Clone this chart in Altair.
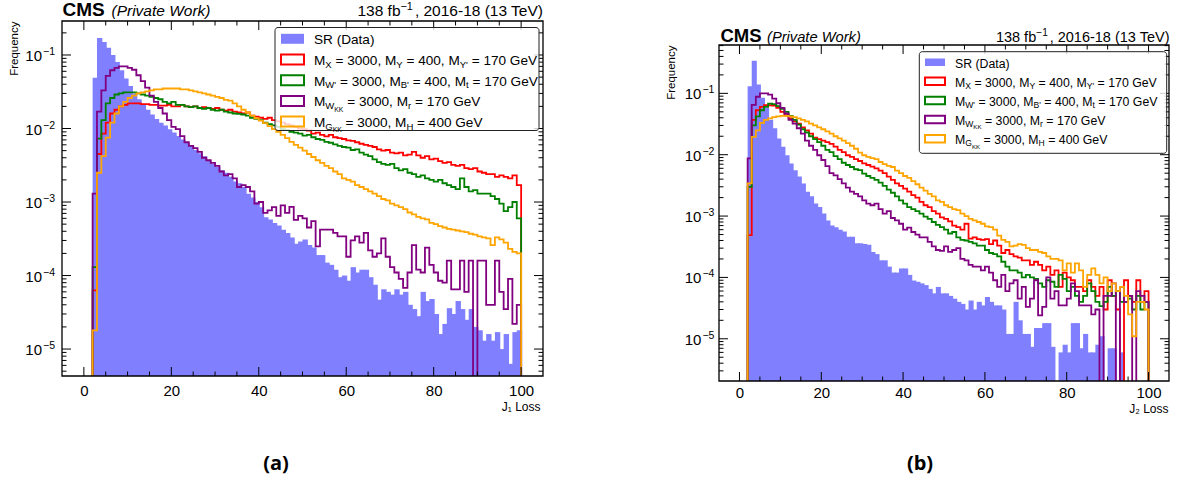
import altair as alt
import pandas as pd
import math

FIRST_BIN = 2  # unit-width bins [2,3), [3,4), ..., [99,100)

# ---------------- panel (a): J1 loss ----------------
j1_sr = [
    0.049, 0.17, 0.15, 0.125, 0.10, 0.08, 0.062, 0.048, 0.038, 0.030,
    0.025, 0.021, 0.018, 0.0155, 0.0135, 0.012, 0.011, 0.0098, 0.0088, 0.0079,
    0.0071, 0.0064, 0.0058, 0.0051, 0.0046, 0.0042, 0.0037, 0.0033, 0.0030, 0.0027,
    0.0025, 0.0022, 0.0019, 0.0018, 0.0016, 0.0013, 0.00115, 0.0010, 0.00085, 0.00062,
    0.00058, 0.00052, 0.00048, 0.00042, 0.00038, 0.00033, 0.00027, 0.00029, 0.00031, 0.00026,
    0.00024, 0.00019, 0.00019, 0.00015, 0.00014, 0.00012, 0.000095, 0.00010, 0.000085, 0.00013,
    0.00011, 0.00012, 0.00012, 0.000095, 0.000075, 0.000047, 0.000065, 0.00006, 0.000055, 0.000065,
    0.000055, 0.00006, 0.00004, 0.000035, 0.000028, 0.00006, 0.000045, 0.000048, 0.00003, 0.000016,
    0.000022, 0.000036, 0.00003, 0.000045, 0.000035, 0.000025, 0.000035, 0.00002, 0.000018, 0.000013,
    0.000016, 0.000013, 0.000017, 0.00001, 0.000016, 0.0000063, 0.000017, 0.000018,
]
j1_xyy = [
    6.3e-5, 0.0045, 0.0085, 0.012, 0.016, 0.018, 0.020, 0.021, 0.022, 0.022,
    0.022, 0.0215, 0.0215, 0.021, 0.021, 0.0205, 0.0205, 0.021, 0.020, 0.020,
    0.021, 0.020, 0.0195, 0.020, 0.019, 0.0195, 0.019, 0.0185, 0.019, 0.018,
    0.0175, 0.018, 0.017, 0.0165, 0.016, 0.0165, 0.015, 0.0145, 0.014, 0.0135,
    0.014, 0.013, 0.0125, 0.012, 0.0115, 0.011, 0.0105, 0.0100, 0.0098, 0.0094,
    0.0085, 0.0088, 0.0082, 0.0078, 0.0082, 0.0076, 0.0074, 0.0072, 0.0069, 0.0068,
    0.0065, 0.0062, 0.0060, 0.0058, 0.0056, 0.0052, 0.0050, 0.0051, 0.0047, 0.0046,
    0.0047, 0.0043, 0.0044, 0.0048, 0.0043, 0.0040, 0.0042, 0.0038, 0.0039, 0.0036,
    0.0034, 0.0035, 0.0032, 0.0031, 0.0032, 0.0029, 0.0028, 0.0029, 0.0026, 0.0025,
    0.0024, 0.0024, 0.0022, 0.0023, 0.0022, 0.0021, 0.0023, 0.0017,
]
j1_wbt = [
    1.3e-4, 0.0073, 0.013, 0.022, 0.026, 0.029, 0.030, 0.031, 0.031, 0.031,
    0.030, 0.029, 0.028, 0.027, 0.026, 0.025, 0.023, 0.022, 0.023, 0.021,
    0.021, 0.020, 0.0195, 0.020, 0.019, 0.0185, 0.019, 0.018, 0.0175, 0.018,
    0.017, 0.0165, 0.016, 0.0158, 0.0155, 0.015, 0.014, 0.0135, 0.013, 0.012,
    0.0115, 0.011, 0.0105, 0.0098, 0.0095, 0.0090, 0.0088, 0.0085, 0.0080, 0.0082,
    0.0076, 0.0072, 0.0070, 0.0066, 0.0064, 0.0061, 0.0058, 0.0056, 0.0055, 0.0051,
    0.0052, 0.0047, 0.0044, 0.0042, 0.0038, 0.0035, 0.0033, 0.0032, 0.0033, 0.0029,
    0.0027, 0.0028, 0.0025, 0.0024, 0.0022, 0.0023, 0.0021, 0.0020, 0.0019, 0.0020,
    0.0018, 0.0017, 0.0016, 0.0015, 0.0021, 0.0016, 0.0014, 0.00145, 0.0013, 0.0013,
    0.0013, 0.0012, 0.0011, 0.00095, 0.00075, 0.00085, 0.0010, 0.00060,
]
j1_wkk = [
    0.0013, 0.017, 0.033, 0.052, 0.062, 0.067, 0.070, 0.070, 0.067, 0.063,
    0.053, 0.044, 0.036, 0.028, 0.023, 0.019, 0.016, 0.013, 0.0105, 0.0098,
    0.0079, 0.0065, 0.0058, 0.0054, 0.0048, 0.0040, 0.0037, 0.0034, 0.0031, 0.0026,
    0.0023, 0.0024, 0.0021, 0.0016, 0.0017, 0.0016, 0.0014, 0.00095, 0.0010, 0.00071,
    0.00077, 0.00085, 0.00065, 0.0009, 0.00071, 0.00086, 0.00057, 0.00065, 0.0006, 0.00045,
    0.00055, 0.00025, 0.00042, 0.00042, 0.00042, 0.00038, 0.00034, 0.00034, 0.00018, 0.0003,
    0.00034, 0.00028, 0.00038, 0.00022, 0.00018, 0.0002, 0.00032, 0.00018, 0.00013, 0.00011,
    0.00009, 0.000068, 0.00011, 0.00026, 0.00012, 0.00011, 0.00024, 0.00014, 0.00011, 0.000085,
    0.00008, 0.00016, 0.000065, 0.000065, 0.00016, 0.00006, 0.00016, 0.0, 0.00016, 0.00016,
    0.00004, 0.00004, 0.00016, 0.00006, 0.000035, 0.00009, 0.000022, 0.00004,
]
j1_gkk = [
    1.8e-5, 0.0025, 0.0042, 0.0075, 0.012, 0.016, 0.020, 0.023, 0.026, 0.028,
    0.030, 0.031, 0.032, 0.033, 0.034, 0.034, 0.035, 0.035, 0.035, 0.035,
    0.034, 0.034, 0.033, 0.032, 0.031, 0.030, 0.029, 0.028, 0.027, 0.026,
    0.0245, 0.024, 0.022, 0.020, 0.018, 0.0165, 0.015, 0.0138, 0.0128, 0.0118,
    0.0108, 0.0098, 0.009, 0.0082, 0.0074, 0.0066, 0.006, 0.0055, 0.005, 0.0045,
    0.0041, 0.0037, 0.0034, 0.0031, 0.0029, 0.0026, 0.0024, 0.0021, 0.0020, 0.0019,
    0.0017, 0.0016, 0.0015, 0.0014, 0.0013, 0.0012, 0.0011, 0.00105, 0.00095, 0.0009,
    0.00085, 0.0008, 0.00072, 0.00068, 0.00063, 0.0006, 0.00058, 0.00052, 0.0005, 0.00047,
    0.00045, 0.00043, 0.00042, 0.00041, 0.0004, 0.00039, 0.00037, 0.00036, 0.00034, 0.00033,
    0.00032, 0.00026, 0.00033, 0.00031, 0.00028, 0.00023, 0.00021, 0.00020,
]

# ---------------- panel (b): J2 loss ----------------
j2_sr = [
    0.13, 0.34, 0.14, 0.085, 0.058, 0.037, 0.027, 0.0184, 0.0135, 0.0098,
    0.0072, 0.0056, 0.0044, 0.0034, 0.0025, 0.0021, 0.0016, 0.0014, 0.0011, 0.00085,
    0.0007, 0.00066, 0.0006, 0.00056, 0.00046, 0.00046, 0.00036, 0.00036, 0.00035, 0.00034,
    0.00026, 0.00024, 0.00019, 0.00019, 0.00015, 0.00012, 0.00012, 0.00014, 0.00014, 0.00011,
    0.000089, 0.000085, 0.00008, 0.000075, 0.000065, 0.000055, 0.00007, 0.000055, 0.000055, 0.00005,
    0.000045, 0.00004, 0.000037, 0.00003, 0.000042, 0.00003, 0.00004, 0.000035, 0.000048, 0.00004,
    0.000035, 0.000035, 0.00003, 0.000012, 0.000012, 0.00004, 0.00002, 0.000012, 0.000012, 0.0000074,
    0.000015, 0.000015, 0.000018, 0.000018, 0.0000074, 0.0, 0.000006, 0.000008, 0.000006, 0.000018,
    0.000018, 0.000007, 0.000012, 0.000006, 0.000006, 0.000008, 0.000011, 0.0, 0.000007, 0.000007,
    0.0, 0.000006, 0.0, 0.0, 0.0, 0.0, 0.0, 0.0,
]
j2_xyy = [
    0.00049, 0.037, 0.053, 0.060, 0.064, 0.064, 0.063, 0.058, 0.050, 0.044,
    0.039, 0.035, 0.032, 0.028, 0.025, 0.022, 0.019, 0.018, 0.017, 0.016,
    0.015, 0.0135, 0.012, 0.011, 0.0098, 0.0092, 0.0085, 0.0079, 0.0072, 0.0068,
    0.0064, 0.0060, 0.0055, 0.0050, 0.0044, 0.0039, 0.0034, 0.0031, 0.0028, 0.0025,
    0.0022, 0.0020, 0.0017, 0.0015, 0.0014, 0.0012, 0.0011, 0.00095, 0.0009, 0.00082,
    0.0007, 0.00066, 0.0006, 0.00075, 0.00043, 0.00045, 0.00042, 0.00041, 0.00042, 0.00035,
    0.0004, 0.00033, 0.00025, 0.00028, 0.00024, 0.00022, 0.00021, 0.00019, 0.00019, 0.00016,
    0.00018, 0.00016, 0.00013, 0.00015, 0.00011, 0.00013, 0.00007, 0.00012, 0.0001, 0.00009,
    0.00007, 0.00007, 0.00006, 0.00009, 0.00007, 0.00005, 0.00007, 0.00003, 0.00009, 0.00005,
    0.00003, 0.0, 0.00009, 0.00005, 0.00004, 0.00009, 0.00004, 0.00006,
]
j2_wbt = [
    0.003, 0.030, 0.042, 0.053, 0.060, 0.068, 0.067, 0.062, 0.056, 0.050,
    0.043, 0.037, 0.031, 0.026, 0.023, 0.020, 0.018, 0.016, 0.014, 0.012,
    0.011, 0.0095, 0.0085, 0.0074, 0.0068, 0.0063, 0.0058, 0.0056, 0.0049, 0.0045,
    0.0042, 0.0039, 0.0035, 0.0031, 0.0027, 0.0024, 0.0021, 0.0018, 0.0016, 0.0014,
    0.0013, 0.0012, 0.0011, 0.00098, 0.0009, 0.0008, 0.00072, 0.00066, 0.0006, 0.00052,
    0.00055, 0.00045, 0.00041, 0.0004, 0.00038, 0.00036, 0.00033, 0.00033, 0.00028, 0.00025,
    0.00024, 0.00022, 0.00018, 0.00015, 0.00013, 0.00013, 0.00012, 0.0001, 0.00011, 0.0001,
    0.000095, 0.00008, 0.00007, 0.00009, 0.000085, 0.00007, 0.00011, 0.000095, 0.00006, 0.00007,
    0.00005, 0.00004, 0.00005, 0.00008, 0.00006, 0.00004, 0.000034, 0.00004, 0.00007, 0.00005,
    0.00006, 0.00004, 0.00004, 0.000045, 0.00003, 0.00005, 0.00003, 0.00004,
]
j2_wkk = [
    0.0087, 0.065, 0.088, 0.10, 0.10, 0.095, 0.082, 0.069, 0.058, 0.047,
    0.037, 0.032, 0.027, 0.022, 0.017, 0.014, 0.012, 0.0098, 0.0082, 0.0065,
    0.005, 0.0046, 0.0040, 0.0034, 0.0029, 0.0025, 0.0023, 0.0021, 0.0018, 0.0016,
    0.0015, 0.0016, 0.0013, 0.0011, 0.0012, 0.00093, 0.00085, 0.00075, 0.0006, 0.00065,
    0.00055, 0.0005, 0.00045, 0.00045, 0.00038, 0.00032, 0.00028, 0.00027, 0.00032, 0.00026,
    0.00028, 0.0003, 0.0002, 0.00019, 0.00016, 0.00015, 0.00015, 0.00013, 0.00015, 0.00012,
    0.00009, 0.00007, 0.00011, 0.00006, 0.00008, 0.00009, 0.000045, 0.00007, 0.000033, 0.000045,
    0.00009, 0.000024, 0.000033, 0.0001, 0.000045, 0.00006, 0.000035, 0.000035, 0.000045, 0.00008,
    0.00006, 0.000035, 0.000035, 0.000035, 0.000025, 0.00003, 0.0, 0.00005, 0.00005, 0.00008,
    0.0, 0.00007, 0.00004, 0.00005, 0.0, 0.00006, 0.00005, 0.00004,
]
j2_gkk = [
    0.0034, 0.0196, 0.025, 0.033, 0.037, 0.039, 0.041, 0.042, 0.043, 0.043,
    0.042, 0.041, 0.039, 0.037, 0.035, 0.032, 0.030, 0.028, 0.026, 0.024,
    0.022, 0.020, 0.0185, 0.017, 0.0155, 0.014, 0.0125, 0.0108, 0.0098, 0.0092,
    0.0088, 0.0085, 0.0076, 0.0070, 0.0066, 0.0063, 0.0055, 0.0050, 0.0045, 0.0042,
    0.0037, 0.0033, 0.0029, 0.0026, 0.0023, 0.0021, 0.0018, 0.0017, 0.0015, 0.0014,
    0.0013, 0.00125, 0.0011, 0.0010, 0.0009, 0.00085, 0.0008, 0.00075, 0.00068, 0.00066,
    0.0006, 0.00048, 0.00041, 0.00038, 0.00032, 0.00033, 0.00035, 0.00034, 0.0003, 0.00028,
    0.00028, 0.00026, 0.00025, 0.00022, 0.0002, 0.0002, 0.00019, 0.00013, 0.00017, 0.00012,
    0.00017, 0.00013, 0.00007, 0.00011, 0.00014, 0.00011, 0.00008, 0.0001, 0.00006, 0.00008,
    0.00006, 0.00007, 0.00005, 0.000025, 0.000011, 0.00004, 0.00004, 0.00003,
]

# ---------------- labels / ticks ----------------
LEGEND_ROWS = [
    [("SR (Data)", "n")],
    [("M", "n"), ("X", "s"), (" = 3000, M", "n"), ("Y", "s"), (" = 400, M", "n"), ("Y'", "s"), (" = 170 GeV", "n")],
    [("M", "n"), ("W'", "s"), (" = 3000, M", "n"), ("B'", "s"), (" = 400, M", "n"), ("t", "s"), (" = 170 GeV", "n")],
    [("M", "n"), ("W", "s"), ("KK", "ss"), (" = 3000, M", "n"), ("r", "s"), (" = 170 GeV", "n")],
    [("M", "n"), ("G", "s"), ("KK", "ss"), (" = 3000, M", "n"), ("H", "s"), (" = 400 GeV", "n")],
]
LINE_COLORS = ["#ff0000", "#008000", "#800080", "#ffa500"]
DATA_COLOR = "#8080ff"
X_MAJOR = [0, 20, 40, 60, 80, 100]
X_MINOR = [v for v in range(5, 100, 5) if v % 20 != 0]
FONT = "Liberation Sans"
LUMI_MAIN, LUMI_SUP, LUMI_REST = "138 fb", "\u22121", ", 2016-18 (13 TeV)"

CHAR_W = {" ": 278, "'": 191, "(": 333, ")": 333, ",": 278, "-": 333, "=": 584, "\u2212": 584,
          "B": 667, "D": 722, "G": 778, "H": 722, "K": 667, "M": 833, "R": 722, "T": 611,
          "S": 667, "V": 667, "W": 944, "X": 667, "Y": 667, "a": 556, "b": 556, "e": 556,
          "f": 278, "r": 333, "t": 278}
KIND_SCALE = {"n": 1.0, "s": 0.7, "ss": 0.5}
KIND_DY = {"n": 0.0, "s": 0.2, "ss": 0.38}
FLOOR = 1e-9  # empty bins drop below the visible log range (clipped)


def text_w(s, fs):
    return sum(CHAR_W.get(ch, 556) for ch in s) / 1000.0 * fs


def legend_segments(x0, base0, dbase, fs):
    out = {"n": [], "s": [], "ss": []}
    for r, segs in enumerate(LEGEND_ROWS):
        x = x0
        for txt, kind in segs:
            size = fs * KIND_SCALE[kind]
            lead = len(txt) - len(txt.lstrip(" "))
            out[kind].append({"px": x + lead * 0.278 * size, "py": base0 + r * dbase,
                              "txt": txt.strip()})
            x += text_w(txt, size)
    return {k: pd.DataFrame(v) for k, v in out.items()}


def bars_df(vals):
    rows = [{"lo": FIRST_BIN + i, "hi": FIRST_BIN + i + 1, "v": v}
            for i, v in enumerate(vals) if v > 0]
    return pd.DataFrame(rows)


def step_df(vals):
    xs, ys = [FIRST_BIN], [FLOOR]
    for i, v in enumerate(vals):
        y = v if v > 0 else FLOOR
        xs += [FIRST_BIN + i, FIRST_BIN + i + 1]
        ys += [y, y]
    xs.append(FIRST_BIN + len(vals))
    ys.append(FLOOR)
    return pd.DataFrame({"x": xs, "y": ys, "i": list(range(len(xs)))})


ONE = pd.DataFrame({"a": [0]})


def build_panel(P, sr, lines):
    W, H = P["W"], P["H"]
    lo, hi = P["ydom"]
    y_major = [10.0 ** e for e in range(-7, 0) if lo <= 10.0 ** e <= hi]
    y_minor = [k * 10.0 ** e for e in range(-7, 0) for k in range(2, 10) if lo <= k * 10.0 ** e <= hi]

    xs = alt.Scale(domain=[-5, 105], nice=False, zero=False)
    ys = alt.Scale(type="log", domain=[lo, hi], nice=False)
    xaxis = alt.Axis(values=X_MAJOR, domain=False, ticks=False, tickSize=0, grid=False,
                     labelFont=FONT, labelFontSize=P["tick_fs"], labelColor="black",
                     labelPadding=P["xlp"], labelOverlap=False, labelFlush=False,
                     title=P["xtitle"], titleFont=FONT, titleFontSize=12, titleFontWeight="normal",
                     titleColor="black", titleX=P["xtx"], titleY=P["xty"], titleAlign="right",
                     titleBaseline="alphabetic", titleAngle=0)
    yaxis = alt.Axis(values=y_major, labels=False, domain=False, ticks=False, tickSize=0,
                     grid=False, title="Frequency", titleFont=FONT, titleFontSize=11.5,
                     titleFontWeight="normal", titleColor="black", titleX=-44.5, titleY=0,
                     titleAngle=270, titleAlign="right", titleBaseline="alphabetic")

    def X(f):
        return alt.X(f, type="quantitative", scale=xs, axis=xaxis)

    def Y(f):
        return alt.Y(f, type="quantitative", scale=ys, axis=yaxis)

    # filled data histogram; each bar overlaps its neighbour by 1px so no seams show
    layers = [alt.Chart(bars_df(sr)).mark_rect(color=DATA_COLOR, x2Offset=1).encode(
        x=X("lo"), x2=alt.X2("hi"), y=Y("v"), y2=alt.value(H))]
    for vals, col in zip(lines, LINE_COLORS):
        layers.append(alt.Chart(step_df(vals)).mark_line(
            color=col, strokeWidth=1.8, clip=True, strokeJoin="miter", strokeCap="butt").encode(
            x=X("x"), y=Y("y"), order=alt.Order("i:Q")))

    def xt(vals, a, b):
        return alt.Chart(pd.DataFrame({"t": vals})).mark_rule(color="black", strokeWidth=1).encode(
            x=X("t"), y=alt.value(a), y2=alt.value(b))

    def yt(vals, a, b):
        return alt.Chart(pd.DataFrame({"t": vals})).mark_rule(color="black", strokeWidth=1).encode(
            y=Y("t"), x=alt.value(a), x2=alt.value(b))

    layers += [xt(X_MAJOR, H, H - 9), xt(X_MAJOR, 0, 9), xt(X_MINOR, H, H - 4.5), xt(X_MINOR, 0, 4.5),
               yt(y_major, 0, 9), yt(y_major, W - 9, W), yt(y_minor, 0, 4.5), yt(y_minor, W - 4.5, W)]

    # y tick labels "10" with a raised exponent, placed through the log scale
    ylab = pd.DataFrame({"t": y_major,
                         "exp": ["\u2212%d" % -round(math.log10(v)) for v in y_major]})
    layers.append(alt.Chart(ylab).mark_text(
        align="right", baseline="middle", font=FONT, fontSize=P["tick_fs"], dy=1,
        color="black").encode(y=Y("t"), x=alt.value(P["ten_x"]), text=alt.value("10")))
    layers.append(alt.Chart(ylab).mark_text(
        align="left", baseline="middle", font=FONT, fontSize=P["tick_fs"] * 0.7, dy=-3,
        color="black").encode(y=Y("t"), x=alt.value(P["ten_x"] + 1), text="exp:N"))

    layers.append(alt.Chart(ONE).mark_rect(filled=False, stroke="black", strokeWidth=1.3).encode(
        x=alt.value(0), x2=alt.value(W), y=alt.value(0), y2=alt.value(H)))
    main = alt.layer(*layers)

    # ---------- overlay in pixel coordinates (legend, headers, caption) ----------
    ix = alt.Scale(domain=[0, W], range=[0, W], nice=False, zero=False)
    iy = alt.Scale(domain=[0, H], range=[0, H], nice=False, zero=False)

    def IX(f):
        return alt.X(f, type="quantitative", scale=ix, axis=None)

    def IY(f):
        return alt.Y(f, type="quantitative", scale=iy, axis=None)

    def txt_mark(px, py, txt, **kw):
        return alt.Chart(pd.DataFrame([{"px": px, "py": py, "txt": txt}])).mark_text(
            font=FONT, color="black", **kw).encode(x=IX("px"), y=IY("py"), text="txt:N")

    bx0, by0, bx1, by1 = P["box"]
    ov = [alt.Chart(pd.DataFrame([{"x0": bx0, "x1": bx1, "y0": by0, "y1": by1}])).mark_rect(
        fill="white", fillOpacity=0.8, stroke="#222222", strokeWidth=1, cornerRadius=3).encode(
        x=IX("x0"), x2=alt.X2("x1"), y=IY("y0"), y2=alt.Y2("y1"))]

    sx0, sx1 = P["sym_x"]
    st, sb = P["sym_y"]
    fs = P["leg_fs"]
    bases = [P["base0"] + r * P["dbase"] for r in range(len(LEGEND_ROWS))]
    sym_fill = pd.DataFrame([{"x0": sx0, "x1": sx1, "y0": bases[0] - st, "y1": bases[0] - sb}])
    sym_line = pd.DataFrame([{"x0": sx0, "x1": sx1, "y0": bases[r + 1] - st, "y1": bases[r + 1] - sb,
                              "c": LINE_COLORS[r]} for r in range(4)])
    ov.append(alt.Chart(sym_fill).mark_rect(color=DATA_COLOR).encode(
        x=IX("x0"), x2=alt.X2("x1"), y=IY("y0"), y2=alt.Y2("y1")))
    ov.append(alt.Chart(sym_line).mark_rect(filled=False, strokeWidth=2).encode(
        x=IX("x0"), x2=alt.X2("x1"), y=IY("y0"), y2=alt.Y2("y1"), stroke=alt.Stroke("c:N", scale=None)))

    segs = legend_segments(P["text_x"], P["base0"], P["dbase"], fs)
    for kind, df in segs.items():
        ov.append(alt.Chart(df).mark_text(
            align="left", baseline="alphabetic", font=FONT, fontSize=fs * KIND_SCALE[kind],
            dy=fs * KIND_DY[kind], color="black").encode(x=IX("px"), y=IY("py"), text="txt:N"))

    cx, cy, cfs = P["cms"]
    px, py, pfs = P["pw"]
    lx, ly, lfs = P["lumi"]
    ov.append(txt_mark(cx, cy, "CMS", align="left", baseline="alphabetic", fontSize=cfs, fontWeight="bold"))
    ov.append(txt_mark(px, py, "(Private Work)", align="left", baseline="alphabetic", fontSize=pfs,
                       fontStyle="italic"))
    sfs = lfs * 0.7
    w_rest = text_w(LUMI_REST, lfs)
    w_sup = text_w(LUMI_SUP, sfs)
    ov.append(txt_mark(lx, ly, LUMI_REST, align="right", baseline="alphabetic", fontSize=lfs))
    ov.append(txt_mark(lx - w_rest, ly, LUMI_SUP, align="right", baseline="alphabetic", fontSize=sfs,
                       dy=-0.38 * lfs))
    ov.append(txt_mark(lx - w_rest - w_sup, ly, LUMI_MAIN, align="right", baseline="alphabetic",
                       fontSize=lfs))
    capt, capx, capy = P["caption"]
    ov.append(alt.Chart(pd.DataFrame([{"px": capx, "py": capy, "txt": capt}])).mark_text(
        align="center", baseline="middle", font="Open Sans", fontSize=20, fontWeight="bold",
        color="black").encode(x=IX("px"), y=IY("py"), text="txt:N"))
    (ax0, ay0), (ax1, ay1) = P["anchor"]
    ov.append(alt.Chart(pd.DataFrame([{"x0": ax0, "x1": ax1, "y0": ay0, "y1": ay1}])).mark_rect(
        opacity=0).encode(x=IX("x0"), x2=alt.X2("x1"), y=IY("y0"), y2=alt.Y2("y1")))
    overlay = alt.layer(*ov)

    return alt.layer(main, overlay).resolve_scale(x="independent", y="independent").properties(
        width=W, height=H)


PA = dict(W=481, H=355, ydom=[4.30e-6, 0.290], xtitle="J₁ Loss", xtx=478, xty=34,
          tick_fs=15, xlp=7, ten_x=-20, box=(213, 6.5, 477, 109.5), sym_x=(219, 242), sym_y=(10.5, 0.5),
          text_x=252, base0=23.3, dbase=20.7, leg_fs=13.6,
          cms=(0.5, -5, 19), pw=(49.5, -5, 15.5), lumi=(481, -5, 15.5),
          caption=("(a)", 214, 443), anchor=((-62, -21), (-61, -20)))
PB = dict(W=450, H=336, ydom=[2.05e-6, 0.614], xtitle="J₂ Loss", xtx=449, xty=31,
          tick_fs=15, xlp=4, ten_x=-17.6, box=(200.3, 6.7, 447.7, 108.3), sym_x=(206, 226), sym_y=(9.0, 1.5),
          text_x=236, base0=22.5, dbase=19.1, leg_fs=12.3,
          cms=(1.4, -3.4, 18.5), pw=(48, -3.4, 14.7), lumi=(450.5, -3.4, 14.5),
          caption=("(b)", 201, 419), anchor=((460, 437), (461, 438)))

left = build_panel(PA, j1_sr, [j1_xyy, j1_wbt, j1_wkk, j1_gkk])
right = build_panel(PB, j2_sr, [j2_xyy, j2_wbt, j2_wkk, j2_gkk])
spacer = alt.Chart(ONE).mark_rect(opacity=0).encode(
    x=alt.value(0), x2=alt.value(1), y=alt.value(0), y2=alt.value(1)).properties(width=450, height=24)

chart = alt.hconcat(
    left,
    alt.vconcat(spacer, right, spacing=0, bounds="flush"),
    spacing=176, bounds="flush",
).properties(padding=0, background="white").configure_view(strokeOpacity=0)

chart.save("out.html", embed_options={"renderer": "svg", "actions": False})
